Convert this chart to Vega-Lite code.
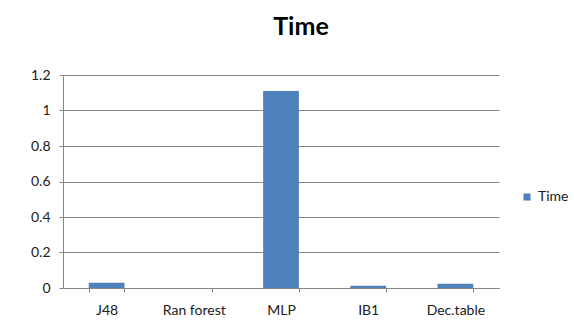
{
  "$schema": "https://vega.github.io/schema/vega-lite/v6.json",
  "width": 436,
  "height": 213,
  "autosize": "none",
  "padding": {"left": 63, "top": 75, "right": 75, "bottom": 43},
  "background": "white",
  "title": {
    "text": "Time",
    "fontSize": 25,
    "font": "Lato",
    "fontWeight": "bold",
    "color": "#000000",
    "anchor": "middle",
    "dx": 20,
    "offset": 28
  },
  "data": {
    "values": [
      {"model": "J48", "time": 0.03, "series": "Time"},
      {"model": "Ran forest", "time": 0.0, "series": "Time"},
      {"model": "MLP", "time": 1.11, "series": "Time"},
      {"model": "IB1", "time": 0.012, "series": "Time"},
      {"model": "Dec.table", "time": 0.024, "series": "Time"}
    ]
  },
  "mark": {"type": "bar", "color": "#4F81BD"},
  "encoding": {
    "x": {
      "field": "model",
      "type": "nominal",
      "sort": null,
      "title": null,
      "scale": {"paddingInner": 0.59, "paddingOuter": 0.295},
      "axis": {
        "labelAngle": 0,
        "labelFont": "Lato",
        "labelFontSize": 14,
        "labelColor": "#202020",
        "labelPadding": 11,
        "tickBand": "extent",
        "tickColor": "#868686",
        "tickSize": 4,
        "domainColor": "#868686",
        "grid": false
      }
    },
    "y": {
      "field": "time",
      "type": "quantitative",
      "title": null,
      "scale": {"domain": [0, 1.2]},
      "axis": {
        "values": [0, 0.2, 0.4, 0.6, 0.8, 1, 1.2],
        "format": "~g",
        "labelFont": "Lato",
        "labelFontSize": 14,
        "labelColor": "#202020",
        "labelPadding": 9,
        "tickColor": "#868686",
        "tickSize": 4,
        "domainColor": "#868686",
        "gridColor": "#868686",
        "gridWidth": 1
      }
    },
    "fill": {
      "field": "series",
      "type": "nominal",
      "scale": {"range": ["#4F81BD"]},
      "legend": {
        "title": null,
        "orient": "none",
        "legendX": 457,
        "legendY": 115,
        "symbolType": "square",
        "symbolSize": 50,
        "labelFont": "Lato",
        "labelFontSize": 14,
        "labelColor": "#202020"
      }
    }
  },
  "config": {
    "view": {"stroke": null}
  }
}
